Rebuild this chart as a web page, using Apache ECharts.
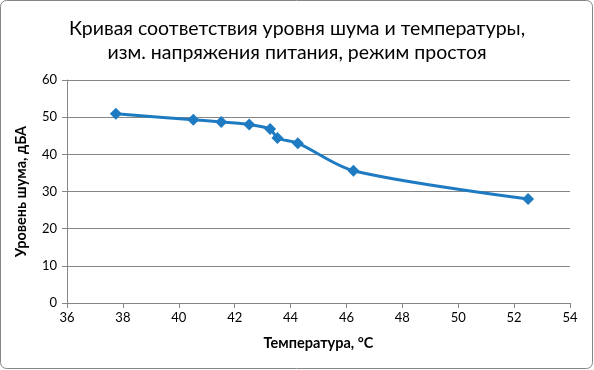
<!DOCTYPE html>
<html><head><meta charset="utf-8">
<script src="https://cdn.jsdelivr.net/npm/echarts@6/dist/echarts.min.js"></script>
<style>html,body{margin:0;padding:0;background:#fff}#c{width:594px;height:370px}</style>
</head><body><div id="c"></div>
<script>
const temps = [37.75, 40.52, 41.52, 42.52, 43.27, 43.53, 44.26, 46.25, 52.5];
const noise = [50.9, 49.3, 48.7, 48.0, 46.8, 44.4, 43.0, 35.6, 28.0];
const titleText = 'Кривая соответствия уровня шума и температуры,\nизм. напряжения питания, режим простоя';
const xName = 'Температура, °C';
const yName = 'Уровень шума, дБА';

const chart = echarts.init(document.getElementById('c'));
const font = 'Lato, "Open Sans", sans-serif';
chart.setOption({
  animation: false,
  graphic: [{type:'rect', shape:{x:0.5,y:0.5,width:592,height:368,r:6}, style:{fill:'none',stroke:'#868686',lineWidth:1}, z:-1}],
  title: {text: titleText, left: 'center', top: 12,
    textStyle:{fontFamily:font, fontSize:19.5, fontWeight:'normal', color:'#000', lineHeight:24}},
  grid: {left:67, right:24, top:80, bottom:67},
  xAxis: {type:'value', min:36, max:54, interval:2,
    name:xName, nameLocation:'middle', nameGap:33,
    nameTextStyle:{fontFamily:font, fontSize:14.5, fontWeight:'bold', color:'#000'},
    axisLine:{lineStyle:{color:'#868686'}}, axisTick:{show:true, length:5, lineStyle:{color:'#868686'}},
    axisLabel:{fontFamily:font, fontSize:13, color:'#000', margin:8},
    splitLine:{show:false}},
  yAxis: {type:'value', min:0, max:60, interval:10,
    name:yName, nameLocation:'middle', nameGap:38, nameRotate:90,
    nameTextStyle:{fontFamily:font, fontSize:14.5, fontWeight:'bold', color:'#000'},
    axisLine:{show:true, lineStyle:{color:'#868686'}}, axisTick:{show:true, length:5, lineStyle:{color:'#868686'}},
    axisLabel:{fontFamily:font, fontSize:13, color:'#000', margin:10},
    splitLine:{lineStyle:{color:'#868686'}}},
  series: [{type:'line', data: temps.map((t,i)=>[t, noise[i]]), smooth:0.3,
    symbol:'diamond', symbolSize:12,
    lineStyle:{color:'#1F7BC1', width:3}, itemStyle:{color:'#1F7BC1'}}]
});
</script></body></html>
